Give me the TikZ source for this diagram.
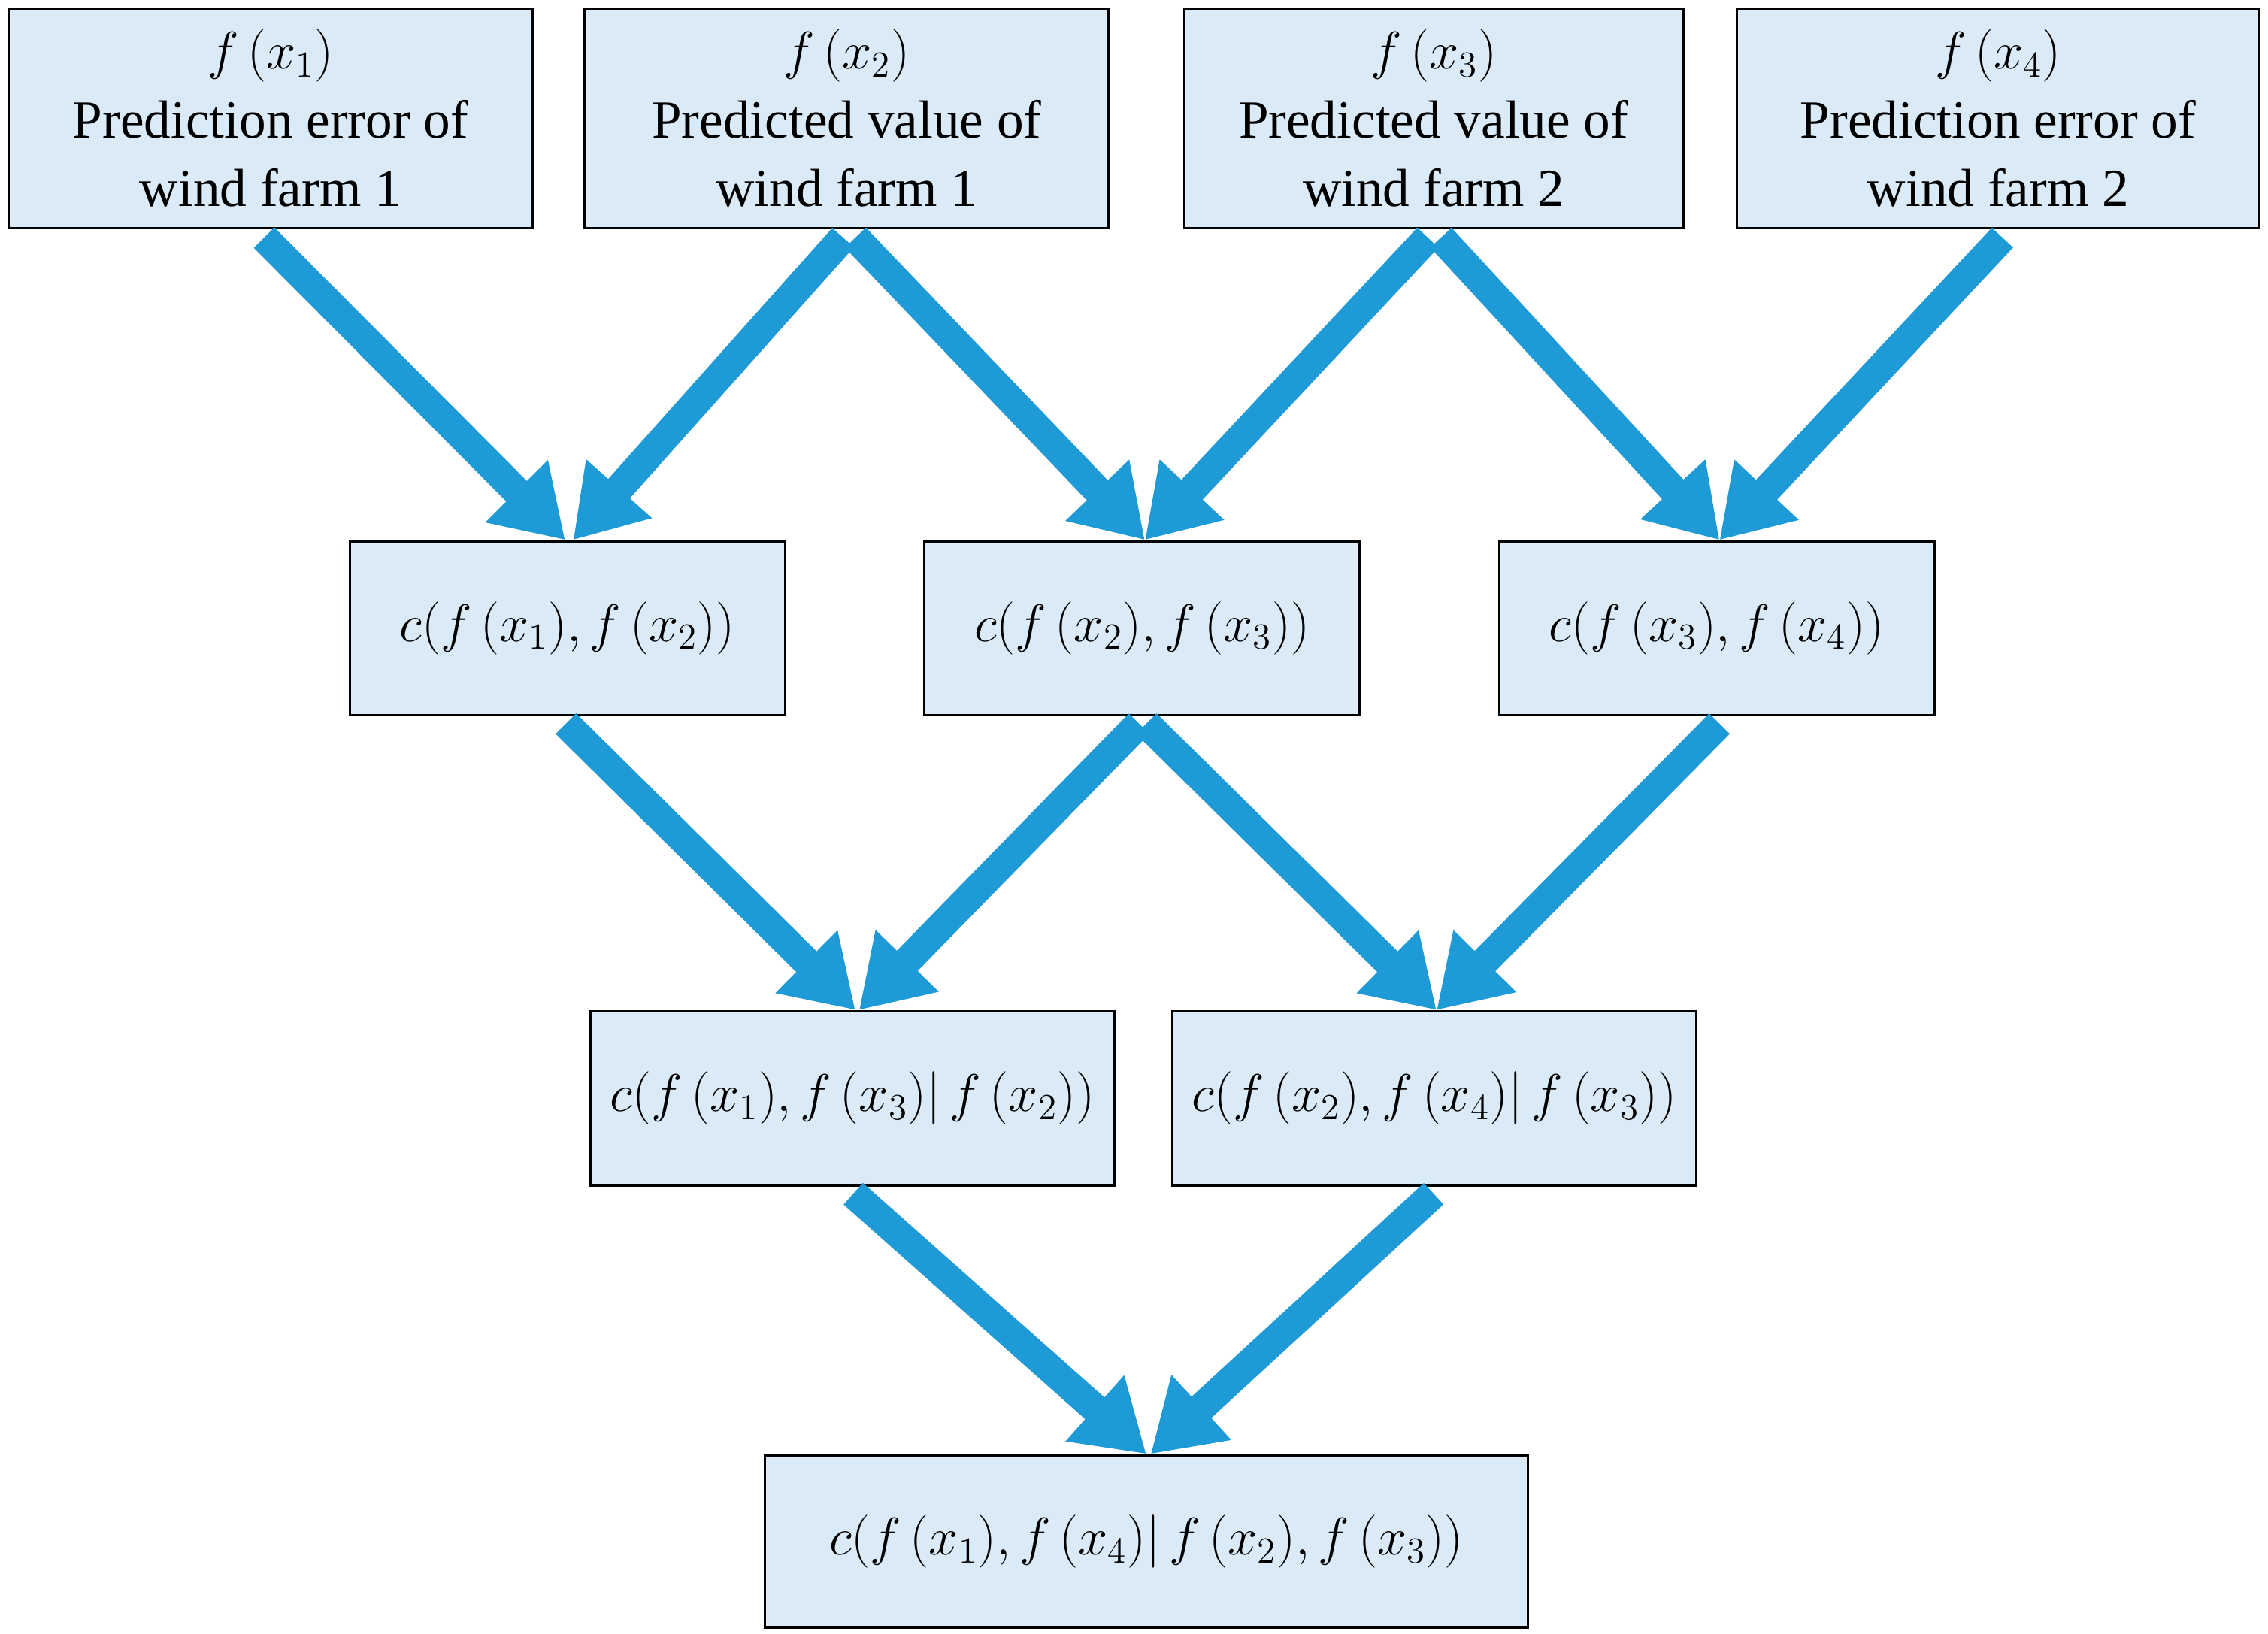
\documentclass[tikz,border=0pt]{standalone}
\usepackage{fontspec}
\setmainfont{Liberation Serif}
\usetikzlibrary{arrows.meta}
\begin{document}
\begin{tikzpicture}[x=0.02cm,y=-0.02cm,
  box/.style={draw=black,line width=0.9pt,fill=boxfill,inner sep=0pt,align=center,
    font=\fontsize{21}{27}\selectfont},
  arr/.style={draw=arrblue,line width=0.4cm,-{Triangle[length=0.95cm,width=1.15cm]}}]
\definecolor{boxfill}{HTML}{DAEAF7}
\definecolor{arrblue}{HTML}{1E9AD6}
\useasboundingbox (0,0) rectangle (1563,1126);
\node[box,minimum width=7.22cm,minimum height=3.02cm] (t1) at (186.5,81.5) {$f\,(x_1)$\\Prediction error of\\wind farm 1};
\node[box,minimum width=7.22cm,minimum height=3.02cm] (t2) at (583.5,81.5) {$f\,(x_2)$\\Predicted value of\\wind farm 1};
\node[box,minimum width=6.88cm,minimum height=3.02cm] (t3) at (988,81.5) {$f\,(x_3)$\\Predicted value of\\wind farm 2};
\node[box,minimum width=7.2cm,minimum height=3.02cm] (t4) at (1377,81.5) {$f\,(x_4)$\\Prediction error of\\wind farm 2};
\node[box,minimum width=6cm,minimum height=2.4cm] (m1) at (391,433) {$c(f\,(x_1),f\,(x_2))$};
\node[box,minimum width=6cm,minimum height=2.4cm] (m2) at (787,433) {$c(f\,(x_2),f\,(x_3))$};
\node[box,minimum width=6cm,minimum height=2.4cm] (m3) at (1183,433) {$c(f\,(x_3),f\,(x_4))$};
\node[box,minimum width=7.22cm,minimum height=2.4cm] (b1) at (587.5,757) {$c(f\,(x_1),f\,(x_3)|\,f\,(x_2))$};
\node[box,minimum width=7.22cm,minimum height=2.4cm] (b2) at (988.5,757) {$c(f\,(x_2),f\,(x_4)|\,f\,(x_3))$};
\node[box,minimum width=10.52cm,minimum height=2.38cm] (r) at (790,1062.5) {$c(f\,(x_1),f\,(x_4)|\,f\,(x_2),f\,(x_3))$};
\draw[arr] ([xshift=-0.09cm,yshift=-0.12cm]t1.south) -- ([xshift=-0.03cm]m1.north);
\draw[arr] ([xshift=-0.05cm,yshift=-0.12cm]t2.south) -- ([xshift=0.08cm]m1.north);
\draw[arr] ([xshift=0.12cm,yshift=-0.12cm]t2.south) -- ([xshift=0.04cm]m2.north);
\draw[arr] ([xshift=-0.08cm,yshift=-0.12cm]t3.south) -- ([xshift=0.04cm]m2.north);
\draw[arr] ([xshift=0.1cm,yshift=-0.12cm]t3.south) -- ([xshift=0.04cm]m3.north);
\draw[arr] ([xshift=0.06cm,yshift=-0.12cm]t4.south) -- ([xshift=0.04cm]m3.north);
\draw[arr] ([xshift=-0.02cm,yshift=-0.1cm]m1.south) -- ([xshift=0.04cm]b1.north);
\draw[arr] ([xshift=-0.04cm,yshift=-0.1cm]m2.south) -- ([xshift=0.09cm]b1.north);
\draw[arr] ([xshift=0.06cm,yshift=-0.1cm]m2.south) -- ([xshift=0.03cm]b2.north);
\draw[arr] ([xshift=0.04cm,yshift=-0.1cm]m3.south) -- ([xshift=0.03cm]b2.north);
\draw[arr] ([xshift=0.01cm,yshift=-0.1cm]b1.south) -- ([xshift=0cm]r.north);
\draw[arr] ([xshift=-0.01cm,yshift=-0.1cm]b2.south) -- ([xshift=0.06cm]r.north);
\end{tikzpicture}
\end{document}
